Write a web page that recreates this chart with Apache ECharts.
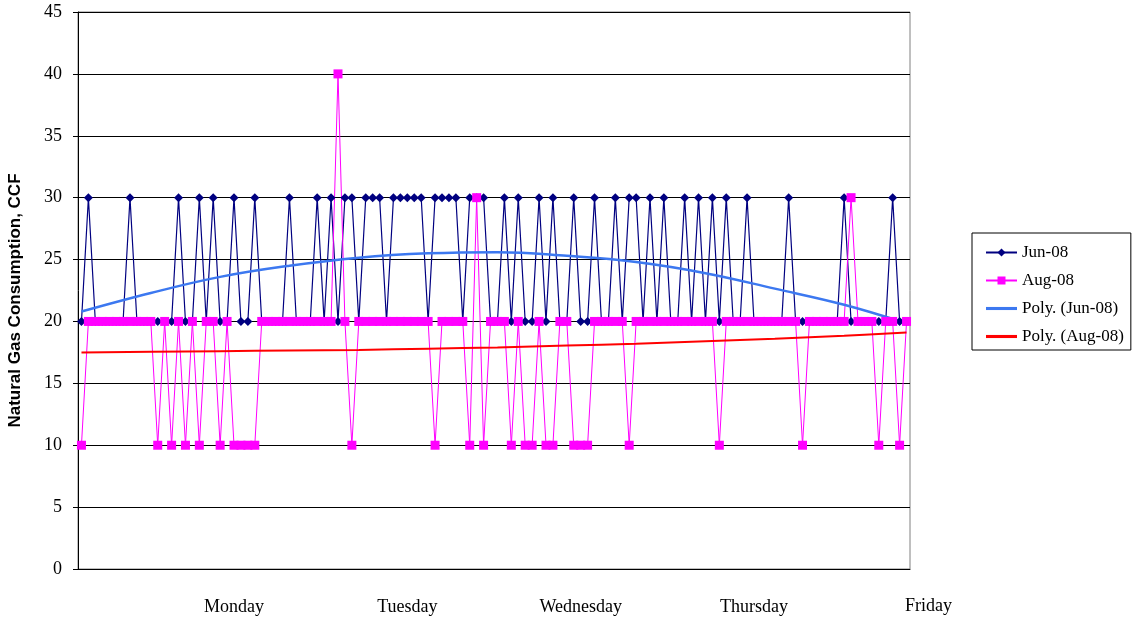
<!DOCTYPE html>
<html>
<head>
<meta charset="utf-8">
<title>Natural Gas Consumption</title>
<script src="https://cdn.jsdelivr.net/npm/echarts@6/dist/echarts.min.js"></script>
<style>
  body { margin: 0; background: #fff; }
  #main { width: 1133px; height: 619px; }
</style>
</head>
<body>
<div id="main"></div>
<script>
// hourly readings (CCF), 120 points
var jun08 = [
  20,30,20,20,20,20,20,30,20,20,
  20,20,20,20,30,20,20,30,20,30,
  20,20,30,20,20,30,20,20,20,20,
  30,20,20,20,30,20,30,20,30,30,
  20,30,30,30,20,30,30,30,30,30,
  20,30,30,30,30,20,30,30,30,20,
  20,30,20,30,20,20,30,20,30,20,
  20,30,20,20,30,20,20,30,20,30,
  30,20,30,20,30,20,20,30,20,30,
  20,30,20,30,20,20,30,20,20,20,
  20,20,30,20,20,20,20,20,20,20,
  30,20,20,20,20,20,20,30,20,20
];
var aug08 = [
  10,20,20,20,20,20,20,20,20,20,
  20,10,20,10,20,10,20,10,20,20,
  10,20,10,10,10,10,20,20,20,20,
  20,20,20,20,20,20,20,40,20,10,
  20,20,20,20,20,20,20,20,20,20,
  20,10,20,20,20,20,10,30,10,20,
  20,20,10,20,10,10,20,10,10,20,
  20,10,10,10,20,20,20,20,20,10,
  20,20,20,20,20,20,20,20,20,20,
  20,20,10,20,20,20,20,20,20,20,
  20,20,20,20,10,20,20,20,20,20,
  20,30,20,20,20,10,20,20,10,20
];

// polynomial trendlines, read at every 10th point
var trendIdx = [0, 10, 20, 30, 40, 50, 60, 70, 80, 90, 100, 110, 119];
var polyJun = [20.8, 22.3, 23.6, 24.5, 25.15, 25.5, 25.6, 25.3, 24.8, 23.9, 22.65, 21.35, 19.85];
var polyAug = [17.5, 17.55, 17.6, 17.65, 17.7, 17.8, 17.9, 18.05, 18.2, 18.4, 18.6, 18.85, 19.1];

// x labels
var dayNames = ['Monday', 'Tuesday', 'Wednesday', 'Thursday'];
var dayIdx = [22, 47, 72, 97];
var lastDay = 'Friday';
var tickEvery = 25;

var hours = [];
for (var i = 0; i < jun08.length; i++) hours.push(String(i));

function pairs(xs, ys) {
  var out = [];
  for (var j = 0; j < xs.length; j++) out.push([xs[j], ys[j]]);
  return out;
}

var serif = 'Liberation Serif';
var lineIcon = 'path://M0,0L10,0L10,1L0,1Z';   // no marker for the trendlines
var chart = echarts.init(document.getElementById('main'));

var option = {
  animation: false,
  backgroundColor: '#fff',
  grid: {
    left: 78, right: 223, top: 12, bottom: 50,
    outerBoundsMode: 'none',
    show: true, borderColor: '#808080', borderWidth: 1, backgroundColor: '#fff'
  },
  legend: {
    orient: 'vertical',
    left: 972, top: 233,
    padding: [11, 7, 5, 13],
    itemWidth: 31, itemHeight: 10, itemGap: 11,
    borderColor: '#000', borderWidth: 1,
    textStyle: { fontFamily: serif, fontSize: 17, color: '#000' },
    data: [
      'Jun-08', 'Aug-08',
      { name: 'Poly. (Jun-08)', icon: lineIcon },
      { name: 'Poly. (Aug-08)', icon: lineIcon }
    ]
  },
  xAxis: {
    type: 'category',
    data: hours,
    boundaryGap: true,
    name: lastDay,
    nameLocation: 'end',
    nameGap: -5,
    nameTextStyle: {
      fontFamily: serif, fontSize: 18, color: '#000',
      verticalAlign: 'top', padding: [28, 0, 0, 0]
    },
    axisLine: { lineStyle: { color: '#000', width: 1 } },
    axisTick: {
      length: 5,
      lineStyle: { color: '#000' },
      interval: function (idx) { return idx % tickEvery === 0; }
    },
    axisLabel: {
      margin: 29,
      fontFamily: serif, fontSize: 18, color: '#000',
      interval: function (idx) { return dayIdx.indexOf(idx) >= 0; },
      formatter: function (v, idx) {
        var k = dayIdx.indexOf(idx);
        return k >= 0 ? dayNames[k] : '';
      }
    },
    splitLine: { show: false }
  },
  yAxis: {
    type: 'value',
    min: 0, max: 45, interval: 5,
    name: 'Natural Gas Consumption, CCF',
    nameLocation: 'middle',
    nameGap: 54,
    nameTextStyle: {
      fontFamily: 'Liberation Sans', fontWeight: 'bold', fontSize: 17, color: '#000',
      padding: [0, 20, 0, 0]
    },
    axisLine: { show: true, lineStyle: { color: '#000', width: 1 } },
    axisTick: { show: true, length: 5, lineStyle: { color: '#000' } },
    axisLabel: { margin: 16, fontFamily: serif, fontSize: 18, color: '#000' },
    splitLine: { lineStyle: { color: '#000', width: 1 } }
  },
  series: [
    {
      name: 'Jun-08', type: 'line', data: jun08,
      symbol: 'diamond', symbolSize: 9, showAllSymbol: true,
      lineStyle: { color: '#000080', width: 1.2 },
      itemStyle: { color: '#000080' }
    },
    {
      name: 'Aug-08', type: 'line', data: aug08,
      symbol: 'rect', symbolSize: 9, showAllSymbol: true,
      lineStyle: { color: '#FF00FF', width: 1 },
      itemStyle: { color: '#FF00FF' }
    },
    {
      name: 'Poly. (Jun-08)', type: 'line', data: pairs(trendIdx, polyJun),
      symbol: 'none', smooth: 0.4,
      lineStyle: { color: '#3C78F0', width: 2.5 },
      itemStyle: { color: '#3C78F0' }
    },
    {
      name: 'Poly. (Aug-08)', type: 'line', data: pairs(trendIdx, polyAug),
      symbol: 'none', smooth: 0.4,
      lineStyle: { color: '#FF0000', width: 2 },
      itemStyle: { color: '#FF0000' }
    }
  ]
};

chart.setOption(option);
</script>
</body>
</html>
